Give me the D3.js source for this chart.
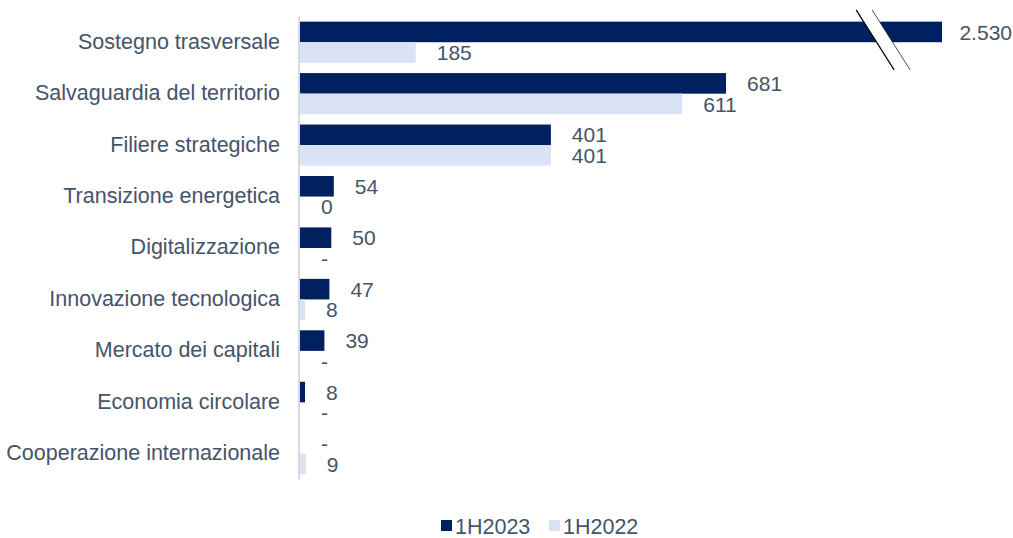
<!DOCTYPE html>
<html>
<head>
<meta charset="utf-8">
<script src="https://cdn.jsdelivr.net/npm/d3@7/dist/d3.min.js"></script>
<style>
  html, body { margin: 0; padding: 0; background: #fff; }
  svg { display: block; font-family: "Liberation Sans", Arial, sans-serif; }
</style>
</head>
<body>
<svg id="chart" width="1013" height="538"></svg>
<script>
const categories = [
  "Sostegno trasversale",
  "Salvaguardia del territorio",
  "Filiere strategiche",
  "Transizione energetica",
  "Digitalizzazione",
  "Innovazione tecnologica ",
  "Mercato dei capitali",
  "Economia circolare",
  "Cooperazione internazionale"
];
const series = ["1H2023", "1H2022"];
// null = no value reported (shown as "-")
const values2023 = [2530, 681, 401, 54, 50, 47, 39, 8, null];
const values2022 = [185, 611, 401, 0, null, 8, null, null, 9];
const colors = ["#002060", "#dae3f3"];

// axis is broken above this value
const breakAt = 924;

const W = 1013;
const svg = d3.select("#chart");
const textColor = "#44546a";
const labelSize = 21.5;
const valueSize = 21;
const x0 = 300;

// piecewise scale: linear up to the break, compressed beyond it
const x = d3.scaleLinear()
  .domain([0, breakAt, 2530])
  .range([x0, x0 + breakAt * 0.6256, 942]);

const y = d3.scaleBand()
  .domain(categories)
  .range([16.5, 479.5])
  .paddingInner(0.2)
  .paddingOuter(0.1);

const ySub = d3.scaleBand()
  .domain(series)
  .range([0, y.bandwidth()]);

const fmt = v => v === null ? "-" : d3.format(",")(v).replace(/,/g, ".");

const rows = categories.map((c, i) => ({
  cat: c,
  items: [
    { s: series[0], v: values2023[i], color: colors[0] },
    { s: series[1], v: values2022[i], color: colors[1] }
  ]
}));

const g = svg.append("g");

const groups = g.selectAll("g.row").data(rows).join("g")
  .attr("class", "row")
  .attr("transform", d => `translate(0,${y(d.cat)})`);

groups.selectAll("rect").data(d => d.items).join("rect")
  .attr("x", x0)
  .attr("y", d => ySub(d.s))
  .attr("width", d => Math.max(0, x(d.v || 0) - x0))
  .attr("height", ySub.bandwidth())
  .attr("fill", d => d.color);

groups.selectAll("text.val").data(d => d.items).join("text")
  .attr("class", "val")
  .attr("x", d => x(d.v || 0) + 21)
  .attr("y", d => ySub(d.s) + ySub.bandwidth() / 2)
  .attr("dy", "0.36em")
  .attr("font-size", valueSize)
  .attr("fill", textColor)
  .text(d => fmt(d.v))
  .each(function () {
    // keep labels inside the frame
    const bb = this.getBBox();
    if (bb.x + bb.width > W - 1) d3.select(this).attr("x", W - 1 - bb.width);
  });

// category axis
const yAxis = d3.axisLeft(y).tickSize(0).tickPadding(20);
const ax = svg.append("g").attr("transform", `translate(${x0},0)`).call(yAxis);
ax.attr("font-family", null).attr("font-size", null);
ax.select(".domain").remove();
ax.selectAll("text").attr("font-size", labelSize).attr("fill", textColor)
  .attr("dy", "0.3em");

svg.append("line")
  .attr("x1", x0 - 1).attr("x2", x0 - 1)
  .attr("y1", 16.5).attr("y2", 479.5)
  .attr("stroke", "#d9d9d9").attr("stroke-width", 2);

// break marker on the first bar
const bx = x(breakAt);
const by = y(categories[0]) + ySub(series[0]) + ySub.bandwidth() / 2;
const slope = 38 / 60;
const px = t => bx + t * slope;
const brk = svg.append("g");
brk.append("polygon")
  .attr("points", [
    [px(-22) - 8, by - 22], [px(-22) + 8, by - 22],
    [px(38) + 8, by + 38], [px(38) - 8, by + 38]
  ].map(p => p.join(",")).join(" "))
  .attr("fill", "#fff");
brk.append("line")
  .attr("x1", px(-22) - 8).attr("y1", by - 22)
  .attr("x2", px(38) - 8).attr("y2", by + 38)
  .attr("stroke", "#000").attr("stroke-width", 1.2);
brk.append("line")
  .attr("x1", px(-22) + 8).attr("y1", by - 22)
  .attr("x2", px(38) + 8).attr("y2", by + 38)
  .attr("stroke", "#222").attr("stroke-width", 0.8);

// legend
const legend = svg.append("g").attr("transform", "translate(0,526)");
const legX = [441, 549];
series.forEach((s, i) => {
  const lg = legend.append("g").attr("transform", `translate(${legX[i]},0)`);
  lg.append("rect").attr("x", 0).attr("y", -6).attr("width", 11).attr("height", 11)
    .attr("fill", colors[i]);
  lg.append("text").attr("x", 14).attr("y", 0).attr("dy", "0.36em")
    .attr("font-size", labelSize).attr("fill", textColor).text(s);
});
</script>
</body>
</html>
